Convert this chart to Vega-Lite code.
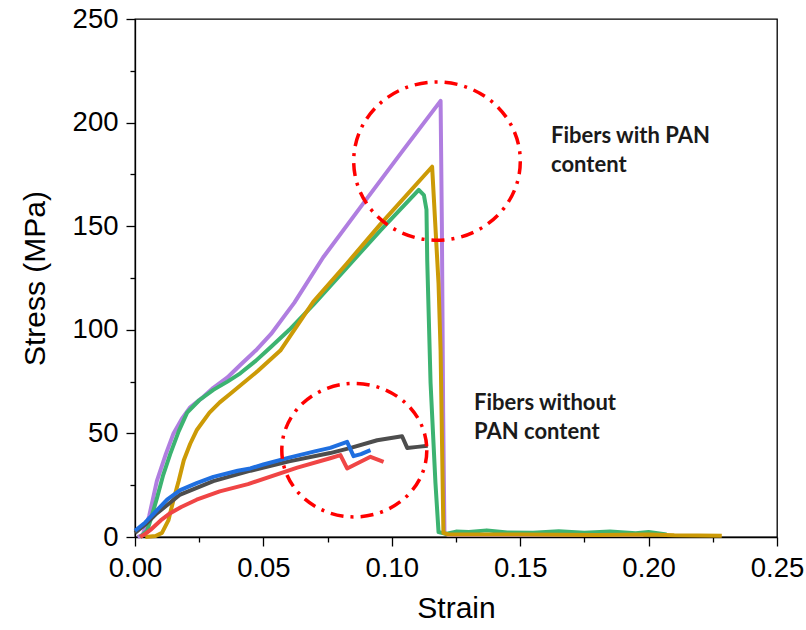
{
  "$schema": "https://vega.github.io/schema/vega-lite/v6.json",
  "width": 642,
  "height": 518,
  "autosize": "none",
  "padding": {"left": 135, "top": 19, "right": 29, "bottom": 93},
  "config": {
    "view": {"stroke": "black", "strokeWidth": 1.3},
    "font": "Liberation Sans",
    "axis": {
      "grid": false,
      "domainColor": "black",
      "domainWidth": 1.3,
      "tickColor": "black",
      "tickWidth": 1.3,
      "labelFont": "Liberation Sans",
      "labelFontSize": 27.5,
      "labelColor": "black",
      "titleFont": "Liberation Sans",
      "titleFontSize": 30,
      "titleFontWeight": "normal",
      "titleColor": "black",
      "labelFlush": false,
      "labelOverlap": false
    }
  },
  "datasets": {
    "curves": [
      {"s":"P","x":0.001,"y":0},{"s":"P","x":0.003,"y":1},{"s":"P","x":0.0055,"y":10},{"s":"P","x":0.0085,"y":27},{"s":"P","x":0.012,"y":40},{"s":"P","x":0.015,"y":50},{"s":"P","x":0.0185,"y":57.5},{"s":"P","x":0.0215,"y":62.6},{"s":"P","x":0.026,"y":67},{"s":"P","x":0.0305,"y":72},{"s":"P","x":0.036,"y":77},{"s":"P","x":0.041,"y":83},{"s":"P","x":0.047,"y":90},{"s":"P","x":0.053,"y":98},{"s":"P","x":0.0575,"y":105.5},{"s":"P","x":0.062,"y":113},{"s":"P","x":0.0733,"y":135},{"s":"P","x":0.0889,"y":161},{"s":"P","x":0.104,"y":186},{"s":"P","x":0.119,"y":210.5},{"s":"P","x":0.1195,"y":150},{"s":"P","x":0.12,"y":60},{"s":"P","x":0.1205,"y":2},{"s":"P","x":0.122,"y":1},{"s":"P","x":0.15,"y":1},{"s":"P","x":0.18,"y":1},{"s":"P","x":0.198,"y":1},
      {"s":"G","x":0.002,"y":0},{"s":"G","x":0.0047,"y":3},{"s":"G","x":0.0065,"y":10},{"s":"G","x":0.0086,"y":19},{"s":"G","x":0.011,"y":30},{"s":"G","x":0.0137,"y":40},{"s":"G","x":0.017,"y":51},{"s":"G","x":0.0203,"y":60},{"s":"G","x":0.025,"y":66},{"s":"G","x":0.0305,"y":71},{"s":"G","x":0.036,"y":75},{"s":"G","x":0.041,"y":79},{"s":"G","x":0.047,"y":85},{"s":"G","x":0.0527,"y":91.5},{"s":"G","x":0.0601,"y":100},{"s":"G","x":0.0694,"y":112},{"s":"G","x":0.0825,"y":130},{"s":"G","x":0.0956,"y":148},{"s":"G","x":0.1105,"y":167.5},{"s":"G","x":0.1125,"y":165},{"s":"G","x":0.1135,"y":158},{"s":"G","x":0.1138,"y":133.4},{"s":"G","x":0.1151,"y":74.2},{"s":"G","x":0.117,"y":26},{"s":"G","x":0.1182,"y":2.4},{"s":"G","x":0.121,"y":1.5},{"s":"G","x":0.125,"y":2.6},{"s":"G","x":0.13,"y":2.4},{"s":"G","x":0.137,"y":3.2},{"s":"G","x":0.145,"y":2.2},{"s":"G","x":0.155,"y":2},{"s":"G","x":0.165,"y":2.8},{"s":"G","x":0.175,"y":2},{"s":"G","x":0.185,"y":2.6},{"s":"G","x":0.195,"y":1.8},{"s":"G","x":0.2,"y":2.4},{"s":"G","x":0.207,"y":1.2},
      {"s":"Y","x":0.004,"y":0},{"s":"Y","x":0.008,"y":0.5},{"s":"Y","x":0.0105,"y":2},{"s":"Y","x":0.013,"y":8},{"s":"Y","x":0.015,"y":18},{"s":"Y","x":0.017,"y":27},{"s":"Y","x":0.019,"y":37},{"s":"Y","x":0.0215,"y":45},{"s":"Y","x":0.024,"y":51.5},{"s":"Y","x":0.029,"y":60},{"s":"Y","x":0.033,"y":65},{"s":"Y","x":0.037,"y":69},{"s":"Y","x":0.0477,"y":80},{"s":"Y","x":0.0566,"y":90},{"s":"Y","x":0.0694,"y":113.5},{"s":"Y","x":0.0825,"y":132},{"s":"Y","x":0.0956,"y":151},{"s":"Y","x":0.1157,"y":178.7},{"s":"Y","x":0.1182,"y":122.3},{"s":"Y","x":0.119,"y":90},{"s":"Y","x":0.1201,"y":2},{"s":"Y","x":0.122,"y":1.2},{"s":"Y","x":0.15,"y":1.2},{"s":"Y","x":0.18,"y":1},{"s":"Y","x":0.2,"y":1.2},{"s":"Y","x":0.21,"y":0.8},{"s":"Y","x":0.2285,"y":0.6},
      {"s":"K","x":0,"y":2},{"s":"K","x":0.004,"y":6},{"s":"K","x":0.0086,"y":11.5},{"s":"K","x":0.0176,"y":20.5},{"s":"K","x":0.0305,"y":27},{"s":"K","x":0.045,"y":32},{"s":"K","x":0.06,"y":36.5},{"s":"K","x":0.076,"y":40.5},{"s":"K","x":0.084,"y":43},{"s":"K","x":0.0943,"y":46.7},{"s":"K","x":0.104,"y":48.6},{"s":"K","x":0.106,"y":43},{"s":"K","x":0.11,"y":43.5},{"s":"K","x":0.114,"y":44},
      {"s":"B","x":0,"y":3},{"s":"B","x":0.004,"y":7},{"s":"B","x":0.0086,"y":13},{"s":"B","x":0.0125,"y":18},{"s":"B","x":0.0176,"y":22.6},{"s":"B","x":0.024,"y":26},{"s":"B","x":0.0305,"y":29},{"s":"B","x":0.04,"y":32},{"s":"B","x":0.0449,"y":33.1},{"s":"B","x":0.05,"y":35},{"s":"B","x":0.06,"y":38.3},{"s":"B","x":0.07,"y":41.3},{"s":"B","x":0.076,"y":43},{"s":"B","x":0.0826,"y":45.9},{"s":"B","x":0.0851,"y":39},{"s":"B","x":0.088,"y":40},{"s":"B","x":0.0917,"y":41.9},
      {"s":"R","x":0.002,"y":0},{"s":"R","x":0.004,"y":1.5},{"s":"R","x":0.006,"y":3.4},{"s":"R","x":0.01,"y":8},{"s":"R","x":0.0137,"y":11.5},{"s":"R","x":0.018,"y":14.5},{"s":"R","x":0.024,"y":18},{"s":"R","x":0.033,"y":22},{"s":"R","x":0.044,"y":25.5},{"s":"R","x":0.0632,"y":33.5},{"s":"R","x":0.076,"y":38},{"s":"R","x":0.08,"y":39.5},{"s":"R","x":0.0826,"y":33.1},{"s":"R","x":0.0917,"y":38.7},{"s":"R","x":0.0968,"y":36.3}
    ]
  },
  "layer": [
    {
      "data": {"name": "curves"},
      "mark": {"type": "line", "strokeWidth": 4, "strokeJoin": "round"},
      "encoding": {
        "x": {
          "field": "x", "type": "quantitative",
          "scale": {"domain": [0, 0.25], "nice": false, "zero": false},
          "axis": {
            "title": "Strain",
            "values": [0, 0.025, 0.05, 0.075, 0.1, 0.125, 0.15, 0.175, 0.2, 0.225, 0.25],
            "format": ".2f",
            "labelExpr": "round(datum.value*1000) % 50 === 0 ? datum.label : ''",
            "tickSize": {"condition": {"test": "round(datum.value*1000) % 50 === 0", "value": 9}, "value": 5},
            "labelPadding": 8,
            "titlePadding": 12
          }
        },
        "y": {
          "field": "y", "type": "quantitative",
          "scale": {"domain": [0, 250], "nice": false},
          "axis": {
            "title": "Stress (MPa)",
            "values": [0, 25, 50, 75, 100, 125, 150, 175, 200, 225, 250],
            "labelExpr": "datum.value % 50 === 0 ? datum.label : ''",
            "tickSize": {"condition": {"test": "datum.value % 50 === 0", "value": 9}, "value": 5},
            "labelPadding": 8,
            "titlePadding": 22
          }
        },
        "color": {
          "field": "s", "type": "nominal", "legend": null,
          "scale": {"domain": ["P", "G", "Y", "K", "B", "R"], "range": ["#B07EE0", "#3CB371", "#CC9A06", "#4D4D4D", "#1F6FE0", "#F04545"]}
        }
      }
    },
    {
      "data": {"values": [{"x": 0.1176, "y": 181.4}]},
      "mark": {
        "type": "point", "filled": false, "stroke": "#FF0000", "strokeWidth": 3.5,
        "strokeDash": [13, 7, 3, 7], "size": 27756, "opacity": 1,
        "shape": "M1,0C1,0.5247 0.5523,0.95 0,0.95C-0.5523,0.95 -1,0.5247 -1,0C-1,-0.5247 -0.5523,-0.95 0,-0.95C0.5523,-0.95 1,-0.5247 1,0Z"
      },
      "encoding": {"x": {"field": "x", "type": "quantitative"}, "y": {"field": "y", "type": "quantitative"}}
    },
    {
      "data": {"values": [{"x": 0.0854, "y": 41.9}]},
      "mark": {
        "type": "point", "filled": false, "stroke": "#FF0000", "strokeWidth": 3.5,
        "strokeDash": [13, 7, 3, 7], "size": 21025, "opacity": 1,
        "shape": "M1,0C1,0.5081 0.5523,0.92 0,0.92C-0.5523,0.92 -1,0.5081 -1,0C-1,-0.5081 -0.5523,-0.92 0,-0.92C0.5523,-0.92 1,-0.5081 1,0Z"
      },
      "encoding": {"x": {"field": "x", "type": "quantitative"}, "y": {"field": "y", "type": "quantitative"}}
    },
    {
      "data": {"values": [
        {"x": 0.162, "y": 190.2, "t": "Fibers with PAN\ncontent"},
        {"x": 0.132, "y": 61.3, "t": "Fibers without\nPAN content"}
      ]},
      "mark": {"type": "text", "align": "left", "baseline": "alphabetic", "font": "Lato", "fontWeight": "bold", "fontSize": 22, "lineBreak": "\n", "lineHeight": 29, "color": "#1a1a1a"},
      "encoding": {"x": {"field": "x", "type": "quantitative"}, "y": {"field": "y", "type": "quantitative"}, "text": {"field": "t"}}
    }
  ]
}
